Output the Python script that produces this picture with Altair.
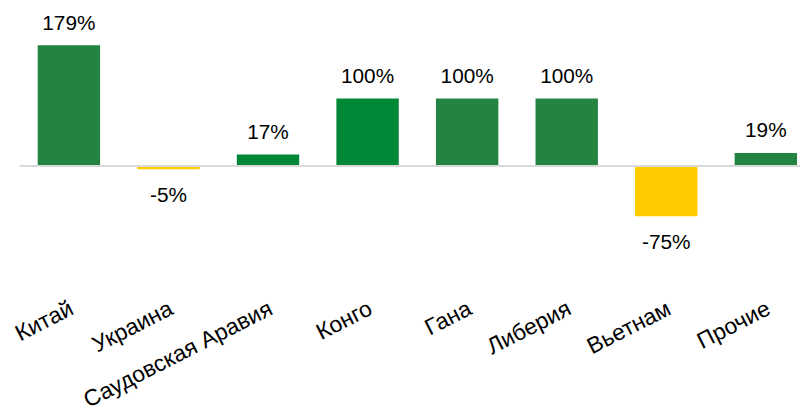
import altair as alt
import pandas as pd

countries = ["Китай", "Украина", "Саудовская Аравия", "Конго", "Гана", "Либерия", "Вьетнам", "Прочие"]
values = [179, -5, 17, 100, 100, 100, -75, 19]
bar_colors = ["#238442", "#FFCC00", "#008837", "#008837", "#238442", "#238442", "#FFCC00", "#238442"]

df = pd.DataFrame({"country": countries, "value": values})
df["label"] = df["value"].astype(str) + "%"

FONT = "Liberation Sans"

x_enc = alt.X(
    "country:N",
    sort=None,
    title=None,
    scale=alt.Scale(range=[18, 785], paddingInner=0.3734, paddingOuter=0, round=False),
    axis=alt.Axis(
        domain=False,
        ticks=False,
        tickSize=0,
        labelAngle=-27,
        labelAlign="right",
        labelBaseline="top",
        labelPadding=17,
        labelOffset=-2,
        labelFontSize=23,
        labelFont=FONT,
        labelColor="#000000",
        labelOverlap=False,
        labelLimit=0,
    ),
)
y_scale = alt.Scale(domain=[-170, 230], nice=False, zero=False)
y_enc = alt.Y("value:Q", scale=y_scale, axis=None)

base = alt.Chart(df)

bars = base.mark_bar().encode(
    x=x_enc,
    y=y_enc,
    y2=alt.datum(0),
    color=alt.Color("country:N", scale=alt.Scale(domain=countries, range=bar_colors), legend=None),
)

zero = base.mark_rule(color="#D9D9D9", strokeWidth=1.5).encode(y=alt.Y(datum=0, scale=y_scale, axis=None))

pos_text = base.transform_filter("datum.value >= 0").mark_text(
    font=FONT, fontSize=21, color="#000000", baseline="alphabetic", dy=-16
).encode(x=x_enc, y=y_enc, text="label:N")

neg_text = base.transform_filter("datum.value < 0").mark_text(
    font=FONT, fontSize=21, color="#000000", baseline="alphabetic", dy=33
).encode(x=x_enc, y=y_enc, text="label:N")

chart = alt.layer(bars, zero, pos_text, neg_text).properties(
    width=788,
    height=272,
    autosize=alt.AutoSizeParams(type="none"),
    padding={"left": 12, "top": 1, "right": 0, "bottom": 137},
).configure_view(stroke=None)

chart.save("out.html", embed_options={"renderer": "svg", "actions": False})
